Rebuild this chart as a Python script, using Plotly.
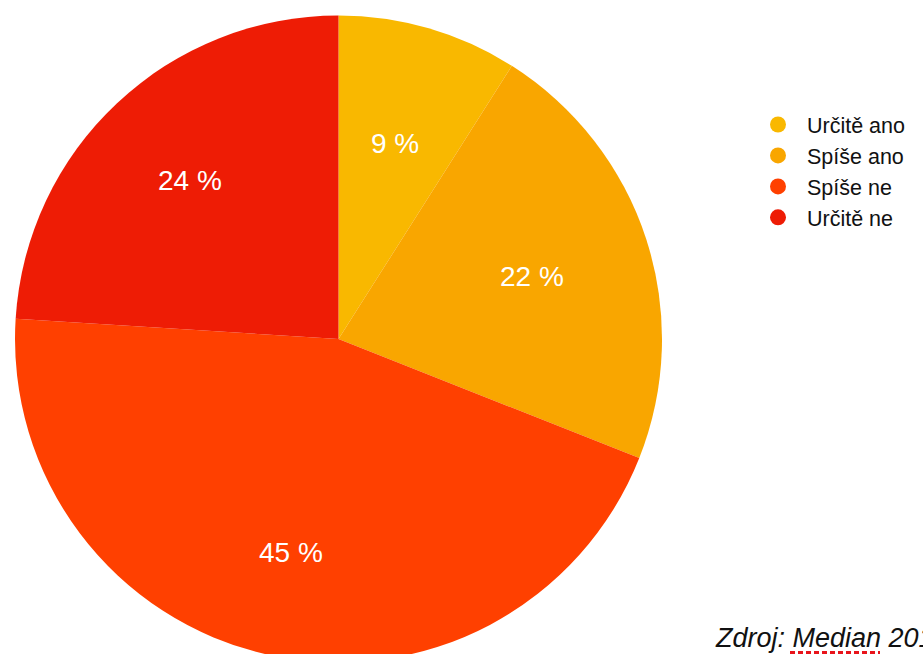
import math
import plotly.graph_objects as go

categories = ["Určitě ano", "Spíše ano", "Spíše ne", "Určitě ne"]
values = [9, 22, 45, 24]
colors = ["#F9B800", "#F9A600", "#FF4000", "#EE1C05"]
source_text = "Zdroj: Median 201"

# figure slightly larger than the window; the page is clipped to 923x654
W, H = 950, 670
CX, CY, R = 338.5, 339.0, 323.5          # pie centre / radius in px
label_radius_frac = [0.63, 0.63, 0.675, 0.67]
FONT = "Liberation Sans, Arial, Helvetica, sans-serif"

fig = go.Figure()
fig.add_trace(go.Pie(
    labels=categories,
    values=values,
    marker=dict(colors=colors, line=dict(width=0)),
    sort=False,
    direction="clockwise",
    rotation=0,
    textinfo="none",
    hoverinfo="label+percent",
    showlegend=False,
    domain=dict(x=[(CX - R) / W, (CX + R) / W], y=[1 - (CY + R) / H, 1 - (CY - R) / H]),
))

for name, col in zip(categories, colors):
    fig.add_trace(go.Scatter(
        x=[None], y=[None], mode="markers", name=name,
        marker=dict(symbol="circle", size=22, color=col),
        showlegend=True,
    ))

# slice labels placed along each slice's mid-angle (clockwise from 12 o'clock)
total = sum(values)
cum = 0.0
for v, fr in zip(values, label_radius_frac):
    mid = (cum + v / 2) / total * 2 * math.pi
    cum += v
    px = CX + fr * R * math.sin(mid)
    py = CY - fr * R * math.cos(mid)
    fig.add_annotation(
        text=f"{v} %", xref="paper", yref="paper",
        x=px / W, y=1 - py / H, xanchor="center", yanchor="middle",
        showarrow=False, font=dict(size=28, color="white", family=FONT),
    )

fig.add_annotation(
    text="<i>" + source_text + "</i>", xref="paper", yref="paper",
    x=713 / W, y=1 - 638 / H, xanchor="left", yanchor="middle",
    showarrow=False, font=dict(size=27, color="#111111", family=FONT),
)
# spell-check squiggle under "Median" seen in the source screenshot
fig.add_shape(type="line", xref="paper", yref="paper",
              x0=790 / W, x1=880 / W, y0=1 - 652.5 / H, y1=1 - 652.5 / H,
              line=dict(color="#E8141B", width=3, dash="5px,3px"))

fig.update_layout(
    width=W, height=H,
    margin=dict(l=0, r=0, t=0, b=0),
    paper_bgcolor="white", plot_bgcolor="white",
    xaxis=dict(visible=False), yaxis=dict(visible=False),
    legend=dict(
        x=749 / W, y=1 - 104 / H, xanchor="left", yanchor="top",
        font=dict(size=21.5, color="#111111", family=FONT),
        tracegroupgap=0, itemwidth=48, bgcolor="rgba(0,0,0,0)",
    ),
    showlegend=True,
)

fig.write_html(
    "out.html",
    config={"displayModeBar": False},
    post_script="document.body.style.margin='0';document.body.style.overflow='hidden';",
)
